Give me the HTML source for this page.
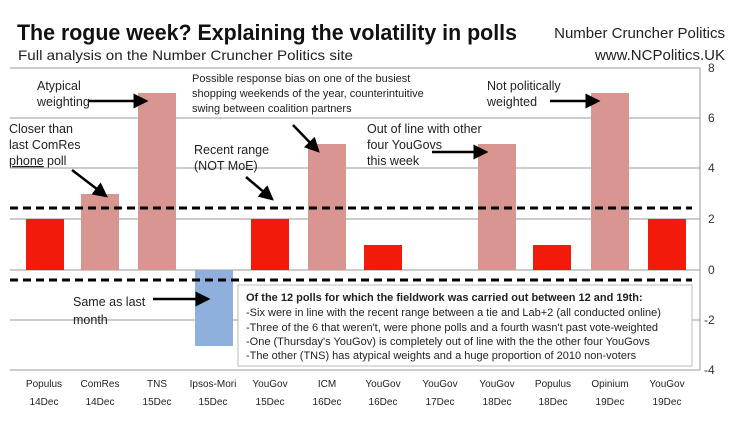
<!DOCTYPE html>
<html><head><style>body{margin:0;background:#fff}svg{display:block}text{font-family:"Liberation Sans",sans-serif}</style></head><body>
<svg width="730" height="430" viewBox="0 0 730 430" xmlns="http://www.w3.org/2000/svg">
<defs><marker id="a" markerWidth="6" markerHeight="6" refX="5" refY="3" orient="auto"><path d="M0,0 L6,3 L0,6 Z" fill="#000"/></marker></defs>
<text x="17" y="40" font-size="22" font-weight="bold" fill="#111" textLength="500" lengthAdjust="spacingAndGlyphs">The rogue week? Explaining the volatility in polls</text>
<text x="18" y="60" font-size="14" fill="#222" textLength="335" lengthAdjust="spacingAndGlyphs">Full analysis on the Number Cruncher Politics site</text>
<text x="725" y="38" font-size="15" fill="#222" text-anchor="end">Number Cruncher Politics</text>
<text x="725" y="60" font-size="15" fill="#222" text-anchor="end">www.NCPolitics.UK</text>
<g stroke="#999" stroke-width="1">
<line x1="10" y1="68" x2="700" y2="68"/><line x1="10" y1="118" x2="700" y2="118"/><line x1="10" y1="168" x2="700" y2="168"/><line x1="10" y1="219" x2="700" y2="219"/><line x1="10" y1="320" x2="700" y2="320"/><line x1="10" y1="370" x2="700" y2="370"/>
<line x1="700" y1="68" x2="700" y2="370"/><line x1="10" y1="270" x2="700" y2="270"/>
</g>
<g fill="#333" font-size="12"><text x="708" y="72">8</text><text x="708" y="122">6</text><text x="708" y="172">4</text><text x="708" y="223">2</text><text x="708" y="274">0</text><text x="704" y="324">-2</text><text x="704" y="374">-4</text></g>
<g>
<rect x="26" y="219" width="38" height="51" fill="#f21a0a"/>
<rect x="81" y="194" width="38" height="76" fill="#d99590"/>
<rect x="138" y="93" width="38" height="177" fill="#d99590"/>
<rect x="195" y="270" width="38" height="76" fill="#8fb0dc"/>
<rect x="251" y="219" width="38" height="51" fill="#f21a0a"/>
<rect x="308" y="144" width="38" height="126" fill="#d99590"/>
<rect x="364" y="245" width="38" height="25" fill="#f21a0a"/>
<rect x="478" y="144" width="38" height="126" fill="#d99590"/>
<rect x="533" y="245" width="38" height="25" fill="#f21a0a"/>
<rect x="591" y="93" width="38" height="177" fill="#d99590"/>
<rect x="648" y="219" width="38" height="51" fill="#f21a0a"/>
</g>
<g stroke="#000" stroke-width="3" stroke-dasharray="8,5"><line x1="10" y1="208" x2="692" y2="208"/><line x1="10" y1="280" x2="692" y2="280"/></g>
<rect x="238" y="285" width="454" height="81" fill="#fff" stroke="#bbb"/>
<g font-size="11" fill="#222">
<text x="246" y="301" font-weight="bold">Of the 12 polls for which the fieldwork was carried out between 12 and 19th:</text>
<text x="246" y="316">-Six were in line with the recent range between a tie and Lab+2 (all conducted online)</text>
<text x="246" y="331">-Three of the 6 that weren't, were phone polls and a fourth wasn't past vote-weighted</text>
<text x="246" y="345">-One (Thursday's YouGov) is completely out of line with the the other four YouGovs</text>
<text x="246" y="359">-The other (TNS) has atypical weights and a huge proportion of 2010 non-voters</text>
</g>
<g stroke="#000" stroke-width="2.5" fill="none">
<line x1="88" y1="101" x2="146" y2="101" marker-end="url(#a)"/>
<line x1="550" y1="101" x2="598" y2="101" marker-end="url(#a)"/>
<line x1="72" y1="170" x2="106" y2="196" marker-end="url(#a)"/>
<line x1="246" y1="177" x2="272" y2="199" marker-end="url(#a)"/>
<line x1="293" y1="125" x2="318" y2="151" marker-end="url(#a)"/>
<line x1="432" y1="152" x2="486" y2="152" marker-end="url(#a)"/>
<line x1="153" y1="299" x2="208" y2="299" marker-end="url(#a)"/>
</g>
<g font-size="12.5" fill="#222">
<text x="37" y="90">Atypical</text><text x="37" y="106">weighting</text>
<text x="487" y="90">Not politically</text><text x="487" y="106">weighted</text>
<text x="9" y="133">Closer than</text><text x="9" y="149">last ComRes</text><text x="9" y="165" text-decoration="underline">phone</text><text x="47" y="165">poll</text>
<text x="194" y="154">Recent range</text><text x="194" y="170">(NOT MoE)</text>
<text x="367" y="133">Out of line with other</text><text x="367" y="149">four YouGovs</text><text x="367" y="165">this week</text>
<text x="73" y="306">Same as last</text><text x="73" y="324">month</text>
</g>
<g font-size="11" fill="#222">
<text x="192" y="82">Possible response bias on one of the busiest</text>
<text x="192" y="97">shopping weekends of the year, counterintuitive</text>
<text x="192" y="112">swing between coalition partners</text>
</g>
<g font-size="10" fill="#222" text-anchor="middle">
<text x="44" y="387">Populus</text><text x="44" y="405">14Dec</text>
<text x="100" y="387">ComRes</text><text x="100" y="405">14Dec</text>
<text x="157" y="387">TNS</text><text x="157" y="405">15Dec</text>
<text x="213" y="387">Ipsos-Mori</text><text x="213" y="405">15Dec</text>
<text x="270" y="387">YouGov</text><text x="270" y="405">15Dec</text>
<text x="327" y="387">ICM</text><text x="327" y="405">16Dec</text>
<text x="383" y="387">YouGov</text><text x="383" y="405">16Dec</text>
<text x="440" y="387">YouGov</text><text x="440" y="405">17Dec</text>
<text x="497" y="387">YouGov</text><text x="497" y="405">18Dec</text>
<text x="553" y="387">Populus</text><text x="553" y="405">18Dec</text>
<text x="610" y="387">Opinium</text><text x="610" y="405">19Dec</text>
<text x="667" y="387">YouGov</text><text x="667" y="405">19Dec</text>
</g>
</svg>
</body></html>
